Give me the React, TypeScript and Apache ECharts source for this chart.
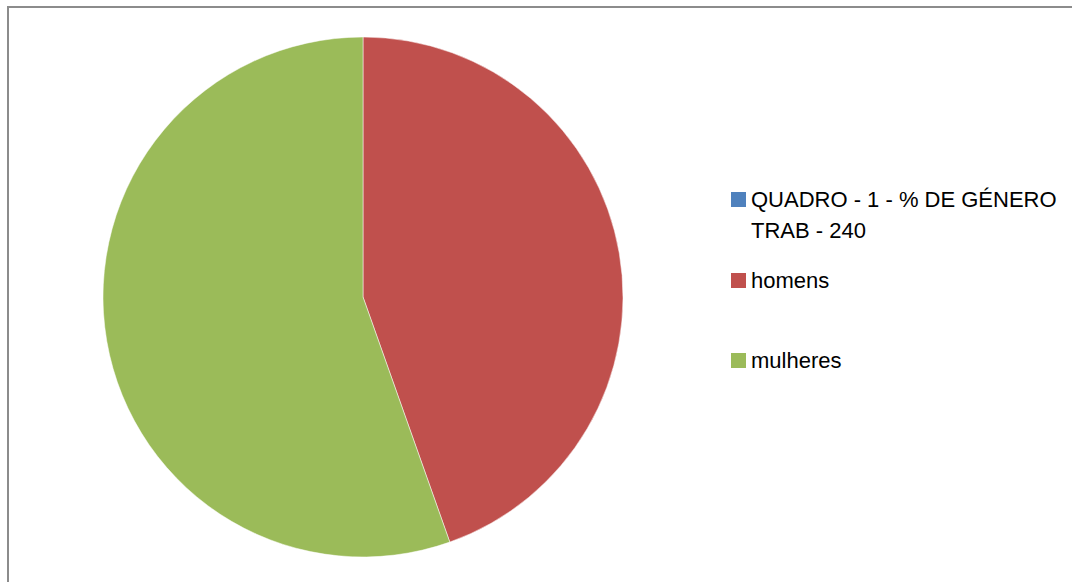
import React, { useEffect, useRef } from "react";
import * as echarts from "echarts";

const categories = ["QUADRO - 1 - % DE GÉNERO TRAB - 240", "homens", "mulheres"];
const values = [0, 107, 133];
const colors = ["#4F81BD", "#C0504D", "#9BBB59"];

export default function App() {
  const ref = useRef<HTMLDivElement>(null);
  useEffect(() => {
    const chart = echarts.init(ref.current!, null, { renderer: "svg" });
    const textStyle = { fontFamily: "Liberation Sans", fontSize: 22, color: "#000", lineHeight: 31 };
    const legendBase = {
      orient: "vertical" as const,
      left: 731,
      padding: 0,
      itemWidth: 15,
      itemHeight: 15,
      itemGap: 8,
      icon: "rect",
      itemStyle: { borderWidth: 0 },
      textStyle,
      selectedMode: false,
      formatter: (n: string) => (n === categories[0] ? "\nQUADRO - 1 - % DE GÉNERO\nTRAB - 240" : n),
    };
    chart.setOption({
      animation: false,
      color: colors,
      graphic: [
        {
          type: "polyline",
          shape: { points: [[8, 600], [8, 7], [1100, 7]] },
          style: { stroke: "#8c8c8c", lineWidth: 2, fill: "none" },
          silent: true,
        },
      ],
      legend: [
        { ...legendBase, top: 153, data: [categories[0]] },
        { ...legendBase, top: 265, data: [categories[1]] },
        { ...legendBase, top: 345, data: [categories[2]] },
      ],
      series: [
        {
          type: "pie",
          center: [363, 297],
          radius: 260,
          startAngle: 90,
          clockwise: true,
          label: { show: false },
          labelLine: { show: false },
          itemStyle: { borderColor: "#ffffff", borderWidth: 0.5 },
          emphasis: { disabled: true },
          data: categories.map((c, i) => ({ name: c, value: values[i] })),
        },
      ],
    });
    return () => chart.dispose();
  }, []);
  return (
    <div
      ref={ref}
      style={{ position: "absolute", left: 0, top: 0, width: 1072, height: 582 }}
    />
  );
}
